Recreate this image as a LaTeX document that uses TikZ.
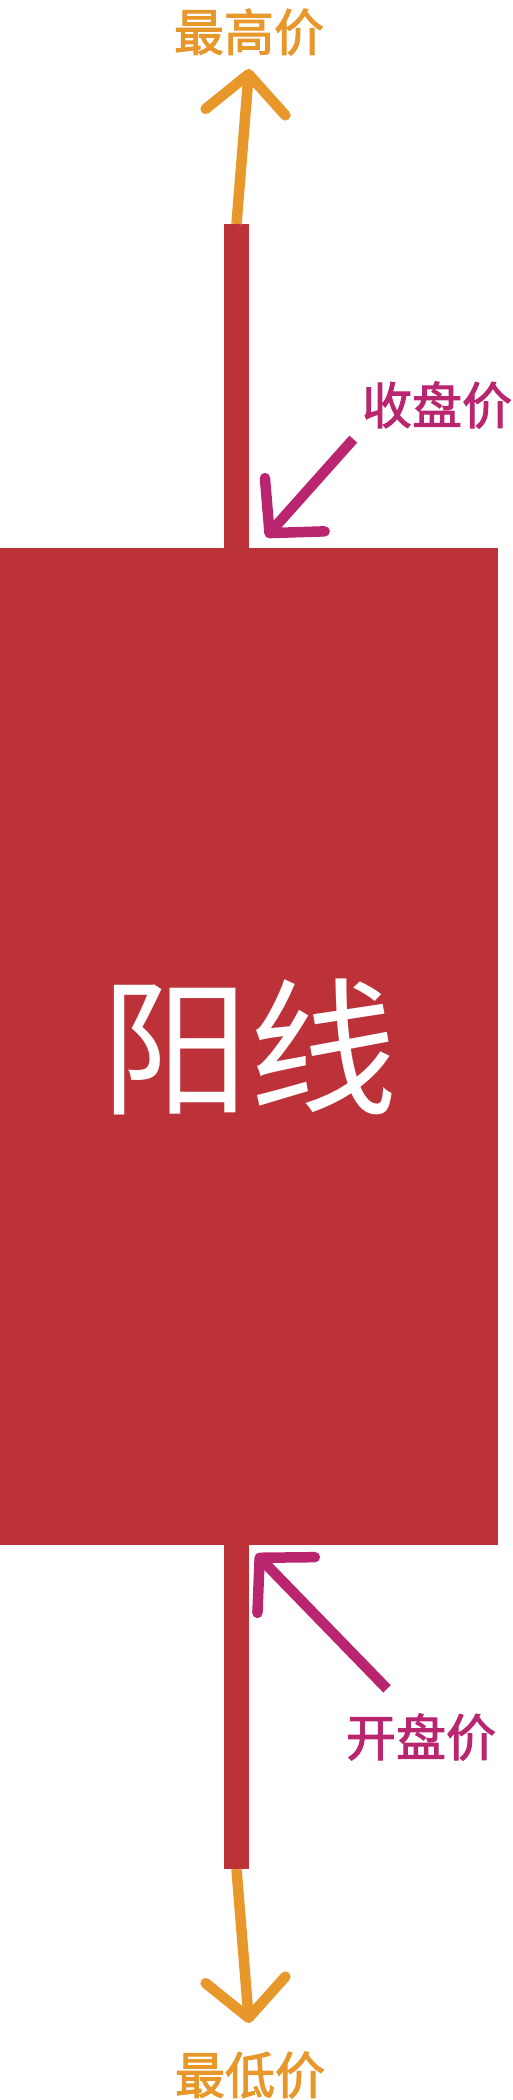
\documentclass[tikz,border=0pt]{standalone}
\usepackage{fontspec}
\usepackage{xcolor}
\usepackage{tikz}
\usetikzlibrary{arrows.meta}
\usetikzlibrary{positioning}
\newfontfamily\cjk{Noto Sans CJK SC}
\newfontfamily\cjkmid[FakeBold=2]{Noto Sans CJK SC}
\definecolor{candlered}{HTML}{BD3238}
\definecolor{hilo}{HTML}{E8972B}
\definecolor{oc}{HTML}{B9266F}

\begin{document}
\begin{tikzpicture}[
    x=1pt, y=-1pt,
    candle/.style={rectangle, fill=candlered, inner sep=0pt, outer sep=0pt},
    wick/.style={candle, minimum width=25pt, minimum height=324pt},
    body/.style={candle, minimum width=498pt, minimum height=997pt,
        text=white, font=\cjk\fontsize{148}{148}\selectfont},
    pricelabel/.style={inner sep=0pt, font=\cjkmid\fontsize{50}{50}\selectfont},
    pointer/.style={line width=10.5pt,
        -{Straight Barb[round, length=38pt, width=80pt]}},
    hiloarrow/.style={pointer, draw=hilo},
    ocarrow/.style={pointer, draw=oc}
]
\useasboundingbox (0,0) rectangle (512,2100);

% candle
\node[body] (body) at (249,1046.5) {阳线};
\node[wick, anchor=south east] (upwick) at (body.north) {};
\node[wick, anchor=north east] (downwick) at (body.south) {};

% labels
\node[pricelabel, text=hilo] (high) at (249,32) {最高价};
\node[pricelabel, text=hilo] (low) at (250,2075) {最低价};
\node[pricelabel, text=oc] (close) at (437,405) {收盘价};
\node[pricelabel, text=oc] (open) at (421,1737) {开盘价};

\coordinate (hightip) at (249,69);
\coordinate (lowtip) at (249,2023);
\coordinate (closetip) at (266,537);
\coordinate (opentip) at (256,1554);

% pointers
\draw[hiloarrow] (upwick.north) -- (hightip);
\draw[hiloarrow] (downwick.south) -- (lowtip);
\draw[ocarrow] ([shift={(-8.5,10.5)}]close.south west) -- (closetip);
\draw[ocarrow] ([shift={(-34,-24.5)}]open.north) -- (opentip);
\end{tikzpicture}
\end{document}
